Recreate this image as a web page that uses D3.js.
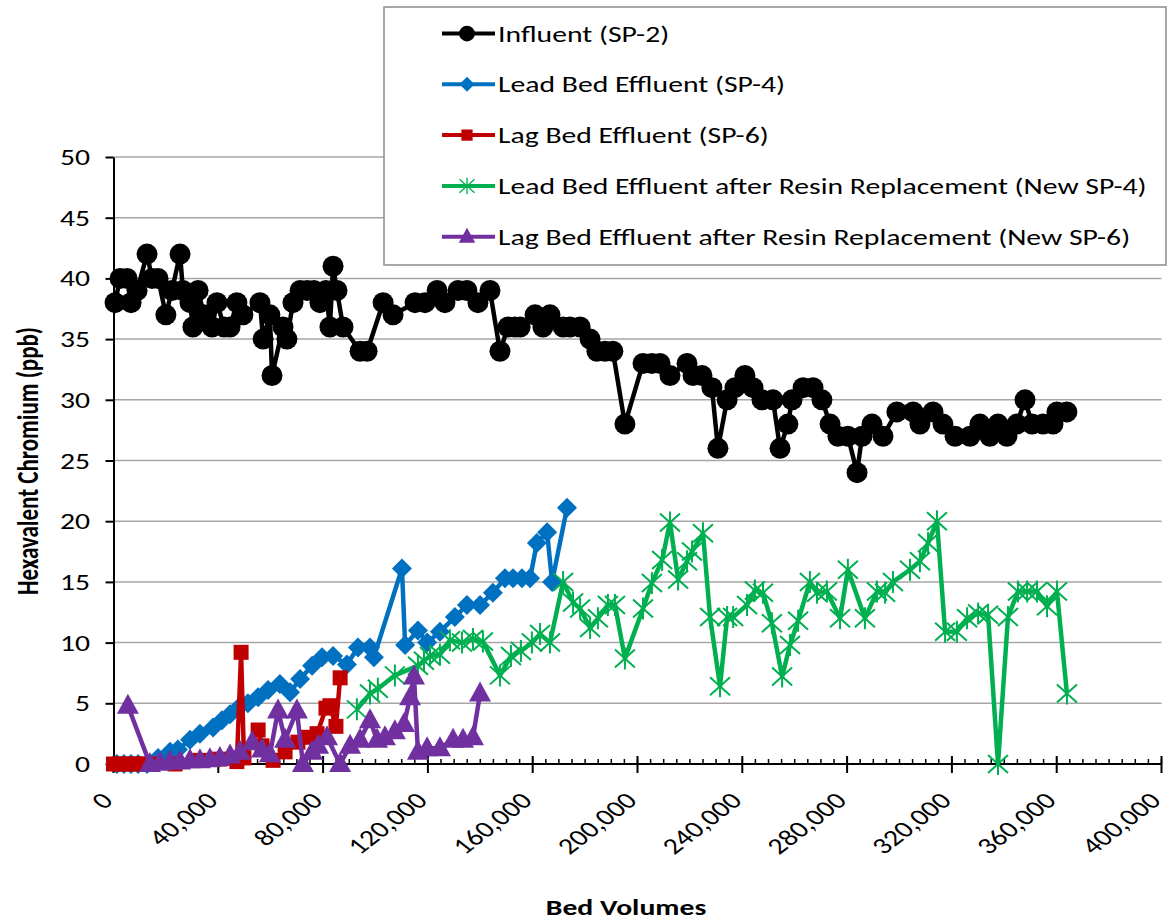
<!DOCTYPE html>
<html>
<head>
<meta charset="utf-8">
<script src="https://cdn.jsdelivr.net/npm/d3@7"></script>
<style>
  body { margin: 0; background: #fff; }
  svg { display: block; }
  text { font-family: Carlito, Calibri, Lato, sans-serif; fill: #000; }
</style>
</head>
<body>
<svg id="chart" width="1169" height="921"></svg>
<script>
// bed volumes / hexavalent chromium (ppb)
const influentBV = [600, 2500, 5200, 6700, 9000, 12800, 14700, 17000, 20000, 22300, 25400, 26500, 29200, 30300, 32300, 34500, 37600, 39500, 42200, 44500, 47100, 49400, 55900, 57100, 59700, 60500, 64700, 66200, 68500, 71200, 73900, 76500, 78800, 81100, 82600, 83800, 85300, 87600, 94100, 96800, 102900, 106700, 115100, 118900, 123500, 126500, 131500, 134900, 139100, 143700, 147500, 150600, 153200, 155200, 160900, 163900, 166600, 171600, 174200, 178100, 181900, 184500, 187600, 190600, 195200, 202100, 205500, 208600, 212400, 218900, 221200, 224600, 228400, 230700, 234200, 237200, 241000, 244100, 247500, 251700, 254400, 257400, 259000, 263200, 267000, 270400, 273500, 276500, 280300, 283800, 285700, 289500, 293700, 299000, 305200, 307800, 312800, 316600, 321200, 326900, 330700, 334500, 337600, 341000, 344800, 347900, 350600, 354800, 358600, 360100, 363900];
const influentCr = [38, 40, 40, 38, 39, 42, 40, 40, 37, 39, 42, 39, 38, 36, 39, 37, 36, 38, 36, 36, 38, 37, 38, 35, 37, 32, 36, 35, 38, 39, 39, 39, 38, 39, 36, 41, 39, 36, 34, 34, 38, 37, 38, 38, 39, 38, 39, 39, 38, 39, 34, 36, 36, 36, 37, 36, 37, 36, 36, 36, 35, 34, 34, 34, 28, 33, 33, 33, 32, 33, 32, 32, 31, 26, 30, 31, 32, 31, 30, 30, 26, 28, 30, 31, 31, 30, 28, 27, 27, 24, 27, 28, 27, 29, 29, 28, 29, 28, 27, 27, 28, 27, 28, 27, 28, 30, 28, 28, 28, 29, 29];

const leadBV = [1300, 4000, 6700, 9400, 12800, 17000, 21600, 24600, 29200, 33000, 38000, 41400, 44500, 47500, 51300, 55200, 59000, 63500, 67400, 71200, 75800, 79600, 83800, 89100, 93300, 97900, 99400, 110100, 111300, 116200, 119700, 124600, 130300, 134900, 139900, 144800, 149400, 152500, 155900, 159000, 161600, 165500, 167400, 173100];
const leadCr = [0, 0, 0, 0, 0, 0.5, 1, 1.2, 2, 2.5, 3, 3.6, 4.1, 4.6, 5, 5.5, 6.1, 6.6, 5.9, 7, 8.1, 8.8, 8.9, 8.2, 9.6, 9.6, 8.8, 16.1, 9.8, 11, 10, 10.9, 12.1, 13.1, 13.1, 14.1, 15.3, 15.3, 15.3, 15.3, 18.2, 19.1, 15, 21.1];

const lagBV = [0, 2500, 5200, 8200, 10900, 13900, 23500, 33000, 40600, 47100, 48700, 49800, 55200, 56700, 60900, 65500, 70400, 73900, 77700, 81100, 82600, 84900, 86500];
const lagCr = [0, 0, 0, 0, 0, 0, 0, 0.3, 0.4, 0.2, 9.2, 0.5, 2.8, 1.5, 0.3, 1, 1.8, 2.2, 2.5, 4.6, 4.8, 3.1, 7.1];

const newLeadBV = [92900, 97900, 100900, 107400, 116200, 118500, 120800, 124600, 128400, 133000, 137200, 141000, 147500, 151700, 155500, 159700, 162800, 166600, 171600, 175400, 178100, 181900, 184900, 188700, 191400, 195200, 202100, 205500, 209400, 212400, 215500, 218900, 220800, 225000, 227700, 231500, 234200, 236500, 241800, 244800, 247900, 251300, 255200, 258200, 261300, 265800, 268500, 272300, 277300, 280300, 286800, 291400, 294500, 297500, 304000, 307800, 310900, 314300, 317400, 321900, 325800, 330000, 333800, 337600, 341400, 345200, 348700, 352500, 356300, 360100, 363900];
const newLeadCr = [4.5, 5.8, 6.2, 7.3, 8.1, 8.5, 8.9, 9, 10.2, 10, 10.3, 10.1, 7.3, 8.9, 9.3, 10, 10.7, 10, 15, 13.3, 12.8, 11.2, 12, 13.1, 13.1, 8.7, 12.8, 14.9, 16.8, 19.9, 15.2, 16.7, 17.5, 19, 12.1, 6.4, 12.1, 12.1, 13.1, 14.3, 14.1, 11.6, 7.2, 9.8, 11.8, 15, 14.1, 14.2, 12, 16, 12, 14.2, 14.1, 15, 16, 16.7, 18.2, 20, 10.9, 10.9, 12, 12.4, 12.3, 0, 12.1, 14.2, 14.2, 14.2, 13, 14.2, 5.8];

const newLagBV = [5500, 13900, 17700, 21600, 25400, 29200, 33000, 36800, 40600, 44500, 48300, 52900, 56700, 59700, 62800, 65500, 70000, 72300, 75800, 78100, 81500, 86500, 90300, 94100, 97900, 100600, 103600, 107400, 110900, 113200, 114700, 116200, 119700, 124600, 129600, 133400, 137200, 139900];
const newLagCr = [4.8, 0, 0.1, 0.2, 0.2, 0.3, 0.3, 0.4, 0.5, 0.7, 1, 1.8, 1.2, 0.8, 4.4, 2, 4.4, 0, 1, 1.5, 2.2, 0, 1.5, 2, 3.6, 2, 2.2, 2.7, 3.3, 5.5, 7.2, 1, 1.3, 1.3, 2, 2, 2.2, 5.8];

const seriesNames = ['Influent (SP-2)', 'Lead Bed Effluent (SP-4)', 'Lag Bed Effluent (SP-6)',
  'Lead Bed Effluent after Resin Replacement (New SP-4)', 'Lag Bed Effluent after Resin Replacement (New SP-6)'];
const yTicks = [0, 5, 10, 15, 20, 25, 30, 35, 40, 45, 50];
const xTicks = [0, 40000, 80000, 120000, 160000, 200000, 240000, 280000, 320000, 360000, 400000];

const svg = d3.select('#chart');
const FS = 23;

const x = d3.scaleLinear().domain([0, 400000]).range([113.5, 1161.5]);
const y = d3.scaleLinear().domain([0, 50]).range([764, 157]);

// text in the original is wide, so stretch it sideways; work out how much from the legend
const probe = svg.append('text').attr('font-size', FS).text(seriesNames[3]);
const SX = 649 / probe.node().getComputedTextLength();
probe.remove();

function label(parent, px, py, str, opts = {}) {
  return parent.append('text')
    .attr('transform', `translate(${px},${py}) scale(${SX},1) rotate(${opts.rotate || 0})`)
    .attr('font-size', opts.size || FS)
    .attr('font-weight', opts.bold ? 'bold' : null)
    .attr('text-anchor', opts.anchor || 'start')
    .text(str);
}

// gridlines
svg.append('g').selectAll('line').data(yTicks.filter(d => d > 0))
  .enter().append('line')
  .attr('x1', x(0)).attr('x2', x(400000))
  .attr('y1', d => y(d)).attr('y2', d => y(d))
  .attr('stroke', '#a6a6a6').attr('stroke-width', 1.5);

// y axis
const yAxis = svg.append('g')
  .attr('transform', `translate(${x(0)},0)`)
  .call(d3.axisLeft(y).tickValues(yTicks).tickSize(8).tickSizeOuter(0));
yAxis.select('.domain').attr('stroke', '#000').attr('stroke-width', 2);
yAxis.selectAll('.tick line').attr('stroke', '#000').attr('stroke-width', 2);
yAxis.selectAll('.tick text').remove();
yTicks.forEach(t => label(svg, 90, y(t) + 8, String(t), { anchor: 'end' }));

// x axis: major ticks cross, minor ticks inside every 5,000
const xAxis = svg.append('g');
xAxis.append('line')
  .attr('x1', x(0)).attr('x2', x(400000))
  .attr('y1', y(0)).attr('y2', y(0))
  .attr('stroke', '#000').attr('stroke-width', 2);
xAxis.selectAll('line.minor').data(d3.range(0, 400001, 5000))
  .enter().append('line').classed('minor', true)
  .attr('x1', d => x(d)).attr('x2', d => x(d))
  .attr('y1', y(0) - 5).attr('y2', y(0))
  .attr('stroke', '#000').attr('stroke-width', 1.5);
xAxis.selectAll('line.major').data(xTicks)
  .enter().append('line').classed('major', true)
  .attr('x1', d => x(d)).attr('x2', d => x(d))
  .attr('y1', y(0) - 8).attr('y2', y(0) + 9)
  .attr('stroke', '#000').attr('stroke-width', 2);
xTicks.forEach(t => label(svg, x(t) + 1, 802, d3.format(',')(t), { anchor: 'end', rotate: -45 }));

// axis titles
label(svg, 626, 915, 'Bed Volumes', { bold: true, anchor: 'middle' });
label(svg, 38, 461, 'Hexavalent Chromium (ppb)', { bold: true, rotate: -90, anchor: 'middle' });

// markers
const markers = {
  circle: 'M10.5,0A10.5,10.5 0 1,1 -10.5,0A10.5,10.5 0 1,1 10.5,0Z',
  diamond: 'M0,-10L10,0L0,10L-10,0Z',
  square: 'M-7.5,-7.5H7.5V7.5H-7.5Z',
  star: 'M0,-11V11M-10,-9L10,9M-10,9L10,-9',
  triangle: 'M0,-12L11,8H-11Z'
};

const series = [
  { name: seriesNames[0], bv: influentBV, cr: influentCr, color: '#000000', marker: 'circle' },
  { name: seriesNames[1], bv: leadBV, cr: leadCr, color: '#0070c0', marker: 'diamond' },
  { name: seriesNames[2], bv: lagBV, cr: lagCr, color: '#c00000', marker: 'square' },
  { name: seriesNames[3], bv: newLeadBV, cr: newLeadCr, color: '#00b050', marker: 'star' },
  { name: seriesNames[4], bv: newLagBV, cr: newLagCr, color: '#7030a0', marker: 'triangle' }
];

const line = d3.line().x(d => x(d[0])).y(d => y(d[1]));

series.forEach(s => {
  const pts = s.bv.map((b, i) => [b, s.cr[i]]);
  const g = svg.append('g');
  g.append('path').datum(pts)
    .attr('d', line)
    .attr('fill', 'none')
    .attr('stroke', s.color)
    .attr('stroke-width', 4.5)
    .attr('stroke-linejoin', 'round');
  const isStar = s.marker === 'star';
  g.selectAll('path.m').data(pts)
    .enter().append('path').classed('m', true)
    .attr('d', markers[s.marker])
    .attr('transform', d => `translate(${x(d[0])},${y(d[1])})`)
    .attr('fill', isStar ? 'none' : s.color)
    .attr('stroke', s.color)
    .attr('stroke-width', isStar ? 2 : 0);
});

// legend
const legend = svg.append('g');
legend.append('rect')
  .attr('x', 384).attr('y', 7).attr('width', 782).attr('height', 258)
  .attr('fill', '#fff').attr('stroke', '#8c8c8c').attr('stroke-width', 1.5);
series.forEach((s, i) => {
  const cy = 33.5 + i * 50.8;
  legend.append('line')
    .attr('x1', 442).attr('x2', 495).attr('y1', cy).attr('y2', cy)
    .attr('stroke', s.color).attr('stroke-width', 4);
  const isStar = s.marker === 'star';
  legend.append('path')
    .attr('d', markers[s.marker])
    .attr('transform', `translate(467,${cy}) scale(0.75)`)
    .attr('fill', isStar ? 'none' : s.color)
    .attr('stroke', s.color)
    .attr('stroke-width', isStar ? 1.8 : 0);
  label(legend, 498, cy + 8, s.name);
});
</script>
</body>
</html>
